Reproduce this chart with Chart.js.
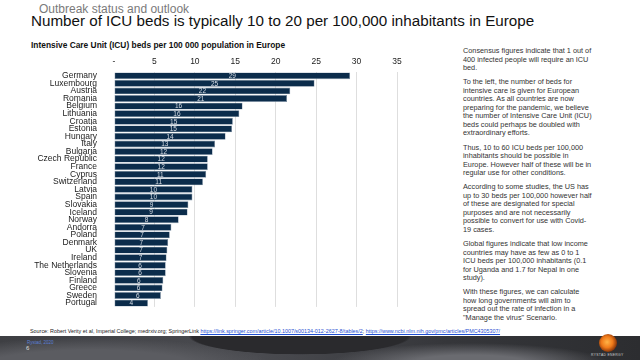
<!DOCTYPE html>
<html>
<head>
<meta charset="utf-8">
<script src="https://cdn.jsdelivr.net/npm/chart.js@4.4.1/dist/chart.umd.min.js"></script>
<style>
  html, body { margin: 0; padding: 0; }
  body { width: 640px; height: 360px; position: relative; overflow: hidden; background: #fff; font-family: 'Liberation Sans', Arial, sans-serif; }
  .abs { position: absolute; white-space: nowrap; }
  #kicker { left: 39px; top: 2px; font-size: 12px; color: #7a7a7a; }
  #title { left: 31px; top: 12px; font-size: 15.2px; color: #111; }
  #chartTitle { left: 31px; top: 40px; font-size: 8.4px; font-weight: bold; color: #111; }
  #chartBox { position: absolute; left: 20px; top: 55px; width: 390px; height: 266px; }
  #side { left: 463px; top: 47px; font-size: 7.3px; line-height: 8.5px; color: #333; }
  #side p { margin: 0 0 5.8px 0; }
  #source { left: 30px; top: 328px; font-size: 5.4px; color: #222; }
  #source a { color: #1f4fd1; text-decoration: underline; }
  #footer { position: absolute; left: 0; top: 336px; width: 640px; height: 24px;
    background:
      radial-gradient(ellipse 180px 30px at 300px 0px, #2a2a2d 60%, rgba(0,0,0,0) 62%),
      radial-gradient(ellipse 260px 40px at 90px 30px, #5b5c61 40%, rgba(0,0,0,0) 70%),
      radial-gradient(ellipse 200px 30px at 470px 28px, #6a6b70 30%, rgba(0,0,0,0) 70%),
      linear-gradient(90deg, #3e3f43, #4a4b50 40%, #35363a 70%, #2c2d30); }
  #foot1 { left: 27px; top: 340px; font-size: 4.5px; color: #5b7fd6; }
  #page { left: 26px; top: 345px; font-size: 6px; color: #ddd; }
  #logo { position: absolute; left: 599px; top: 334px; width: 18px; height: 18px; border-radius: 50%;
    background: radial-gradient(circle at 45% 45%, #ffb347 0%, #f07a1a 40%, #7a2c08 75%, #222 100%); }
  #logoText { left: 591px; top: 353px; font-size: 3.4px; color: #ccc; letter-spacing: 0.3px; }
</style>
</head>
<body>
<div class="abs" id="kicker">Outbreak status and outlook</div>
<div class="abs" id="title">Number of ICU beds is typically 10 to 20 per 100,000 inhabitants in Europe</div>
<div class="abs" id="chartTitle">Intensive Care Unit (ICU) beds per 100 000 population in Europe</div>
<div id="chartBox"><canvas id="myChart" width="390" height="266"></canvas></div>

<div class="abs" id="side">
  <p>Consensus figures indicate that 1 out of<br>400 infected people will require an ICU<br>bed.</p>
  <p>To the left, the number of beds for<br>intensive care is given for European<br>countries. As all countries are now<br>preparing for the pandemic, we believe<br>the number of Intensive Care Unit (ICU)<br>beds could perhaps be doubled with<br>extraordinary efforts.</p>
  <p>Thus, 10 to 60 ICU beds per 100,000<br>inhabitants should be possible in<br>Europe. However half of these will be in<br>regular use for other conditions.</p>
  <p>According to some studies, the US has<br>up to 30 beds per 100,000 however half<br>of these are designated for special<br>purposes and are not necessarily<br>possible to convert for use with Covid-<br>19 cases.</p>
  <p>Global figures indicate that low income<br>countries may have as few as 0 to 1<br>ICU beds per 100,000 inhabitants (0.1<br>for Uganda and 1.7 for Nepal in one<br>study).</p>
  <p>With these figures, we can calculate<br>how long governments will aim to<br>spread out the rate of infection in a<br>"Manage the virus" Scenario.</p>
</div>

<div class="abs" id="source">Source: Robert Verity et al, Imperial College; medrxiv.org; SpringerLink <a>https://link.springer.com/article/10.1007/s00134-012-2627-8/tables/2</a>; <a>https://www.ncbi.nlm.nih.gov/pmc/articles/PMC4305307/</a></div>
<div id="footer"></div>
<div class="abs" id="foot1">Rystad, 2020</div>
<div class="abs" id="page">6</div>
<div id="logo"></div>
<div class="abs" id="logoText">RYSTAD ENERGY</div>

<script>
const countries = ['Germany', 'Luxembourg', 'Austria', 'Romania', 'Belgium', 'Lithuania', 'Croatia', 'Estonia',
  'Hungary', 'Italy', 'Bulgaria', 'Czech Republic', 'France', 'Cyprus', 'Switzerland', 'Latvia', 'Spain',
  'Slovakia', 'Iceland', 'Norway', 'Andorra', 'Poland', 'Denmark', 'UK', 'Ireland', 'The Netherlands',
  'Slovenia', 'Finland', 'Greece', 'Sweden', 'Portugal']
const beds = [29.2, 24.8, 21.8, 21.4, 15.9, 15.5, 14.7, 14.6, 13.8, 12.5, 12.2, 11.6, 11.6, 11.4, 11.0, 9.7, 9.7,
  9.2, 9.1, 8.0, 7.1, 6.9, 6.7, 6.6, 6.5, 6.4, 6.4, 6.1, 6.0, 5.8, 4.2]
const xTicks = [0, 5, 10, 15, 20, 25, 30, 35]

// value labels in the middle of each bar
const barLabels = {
  id: 'barLabels',
  afterDatasetsDraw(chart) {
    let c = chart.ctx
    let meta = chart.getDatasetMeta(0)
    c.save()
    c.font = '6.5px "Liberation Sans", Arial, sans-serif'
    c.fillStyle = '#d8dee6'
    c.textAlign = 'center'
    c.textBaseline = 'middle'
    meta.data.forEach((bar, i) => {
      c.fillText(Math.round(beds[i]), (bar.x + bar.base) / 2, bar.y + 0.5)
    })
    c.restore()
  },
}

let ctx = document.getElementById('myChart').getContext('2d')

let chart = new Chart(ctx, {
  type: 'bar',
  data: {
    labels: countries,
    datasets: [
      {
        data: beds,
        backgroundColor: '#0b2c4b',
        borderColor: '#7d8fa2',
        borderWidth: 0.6,
        borderSkipped: false,
        barPercentage: 0.9,
        categoryPercentage: 1,
      },
    ],
  },
  options: {
    indexAxis: 'y',
    responsive: false,
    animation: false,
    layout: { padding: { right: 13, bottom: 2 } },
    plugins: {
      legend: { display: false },
      tooltip: { enabled: false },
    },
    scales: {
      x: {
        position: 'top',
        min: 0,
        max: 35,
        afterBuildTicks: (scale) => {
          scale.ticks = xTicks.map((v) => ({ value: v }))
        },
        afterFit: (scale) => {
          scale.height = 17
        },
        border: { display: false },
        grid: {
          drawTicks: false,
          color: (g) => (g.tick && g.tick.value === 0 ? 'rgba(0,0,0,0)' : '#dedede'),
        },
        ticks: {
          padding: 5,
          color: '#222',
          font: { family: '"Liberation Sans", Arial, sans-serif', size: 8.5 },
          callback: (v) => (v === 0 ? '-' : v),
        },
      },
      y: {
        afterFit: (scale) => {
          scale.width = 94
        },
        border: { display: false },
        grid: { display: false },
        ticks: {
          autoSkip: false,
          padding: 9,
          color: '#222',
          font: { family: '"Liberation Sans", Arial, sans-serif', size: 8.5 },
        },
      },
    },
  },
  plugins: [barLabels],
})
</script>
</body>
</html>
